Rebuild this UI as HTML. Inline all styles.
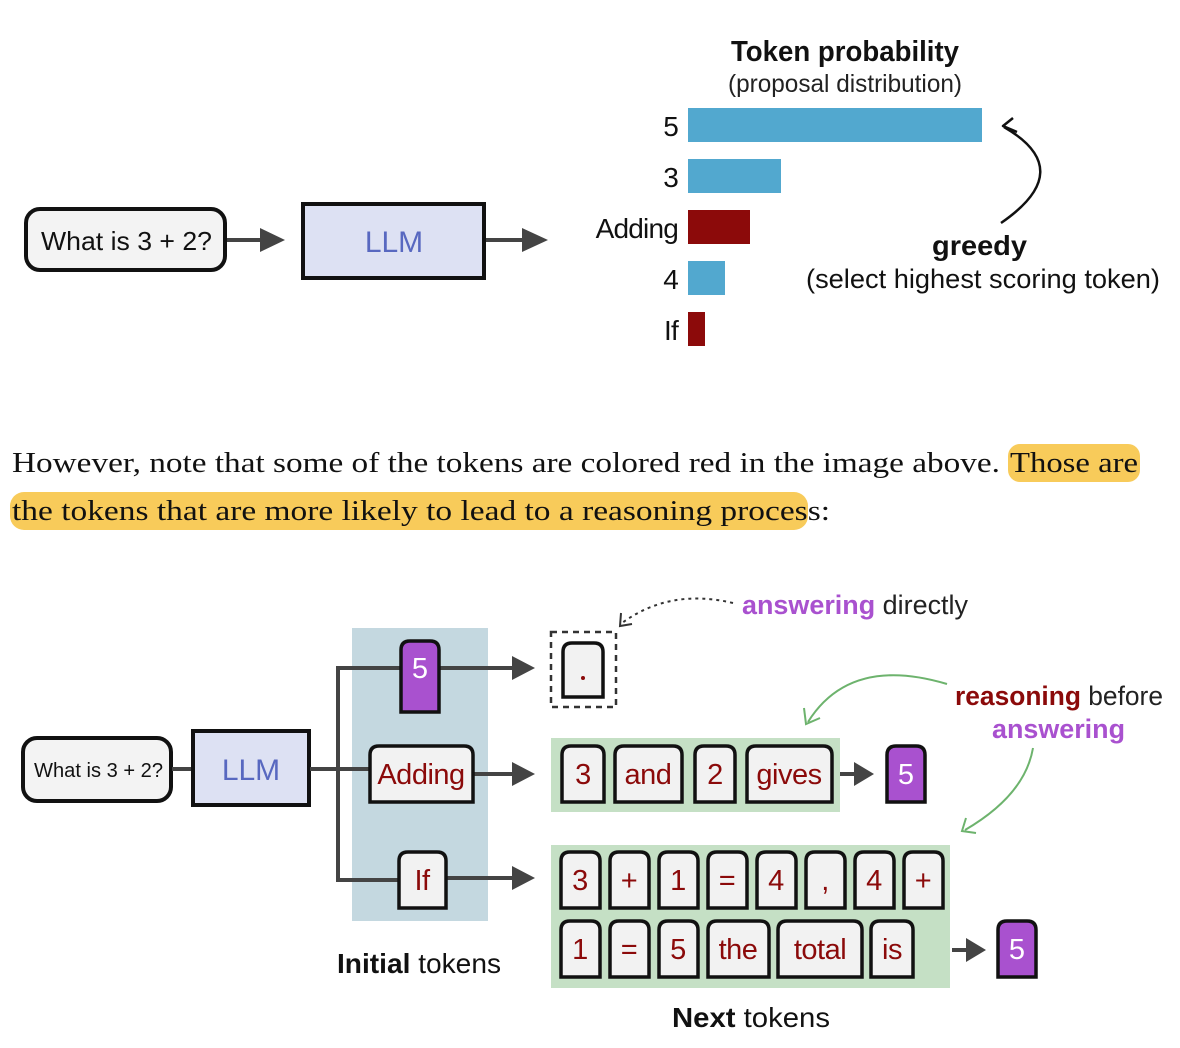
<!DOCTYPE html>
<html><head><meta charset="utf-8"><style>
html,body{margin:0;padding:0;background:#fff;}
svg{display:block;}
.s{font-family:"Liberation Sans",sans-serif;}
.tk{fill:#f2f2f2;stroke:#111;stroke-width:3.5;}
.rt{fill:#8b0a0a;font-size:29px;text-anchor:middle;letter-spacing:-0.5px;}
.pt{fill:#fff;font-size:29px;text-anchor:middle;}
.pu{fill:#a951cf;stroke:#111;stroke-width:3.5;}
.ln{stroke:#444;stroke-width:4;fill:none;}
</style></head><body>
<svg width="1180" height="1048" viewBox="0 0 1180 1048" xmlns="http://www.w3.org/2000/svg">
<g class="s">
<!-- TOP -->
<rect x="26" y="209" width="199" height="61" rx="14" fill="#f3f3f3" stroke="#111" stroke-width="4"/>
<text x="41" y="250" font-size="26" fill="#111" textLength="171" lengthAdjust="spacingAndGlyphs">What is 3 + 2?</text>
<line x1="227" y1="240" x2="262" y2="240" class="ln"/>
<polygon points="260,228 285,240 260,252" fill="#444"/>
<rect x="303" y="204" width="181" height="74" fill="#dde1f3" stroke="#111" stroke-width="4"/>
<text x="394" y="252" font-size="30" text-anchor="middle" fill="#5868c0">LLM</text>
<line x1="486" y1="240" x2="524" y2="240" class="ln"/>
<polygon points="522,228 548,240 522,252" fill="#444"/>

<text x="731" y="61" font-size="29" font-weight="bold" fill="#111" textLength="228" lengthAdjust="spacingAndGlyphs">Token probability</text>
<text x="728" y="92" font-size="25" fill="#222" textLength="234" lengthAdjust="spacingAndGlyphs">(proposal distribution)</text>
<rect x="688" y="108" width="294" height="34" fill="#52a8cf"/>
<rect x="688" y="159" width="93" height="34" fill="#52a8cf"/>
<rect x="688" y="210" width="62" height="34" fill="#8c0a0a"/>
<rect x="688" y="261" width="37" height="34" fill="#52a8cf"/>
<rect x="688" y="312" width="17" height="34" fill="#8c0a0a"/>
<g font-size="28" text-anchor="end" fill="#111" letter-spacing="-0.8">
<text x="678" y="136">5</text>
<text x="678" y="187">3</text>
<text x="678" y="238">Adding</text>
<text x="678" y="289">4</text>
<text x="678" y="340">If</text>
</g>
<path d="M1001,223 Q1078,170 1004,127" fill="none" stroke="#111" stroke-width="2.5"/>
<path d="M1013,118 L1003,126 L1017,132" fill="none" stroke="#111" stroke-width="2.5" stroke-linejoin="round"/>
<text x="932" y="255" font-size="28" font-weight="bold" fill="#111" textLength="95" lengthAdjust="spacingAndGlyphs">greedy</text>
<text x="806" y="288" font-size="27" fill="#111" textLength="354" lengthAdjust="spacingAndGlyphs">(select highest scoring token)</text>
</g>

<!-- PARAGRAPH -->
<rect x="1008" y="444" width="132" height="38" rx="12" fill="#f8cb5a"/>
<rect x="10" y="492" width="798" height="38" rx="14" fill="#f8cb5a"/>
<g font-family="'Liberation Serif',serif" font-size="29" fill="#111">
<text x="12" y="472" textLength="988" lengthAdjust="spacingAndGlyphs">However, note that some of the tokens are colored red in the image above.</text>
<text x="1010" y="472" textLength="128" lengthAdjust="spacingAndGlyphs">Those are</text>
<text x="12" y="520" textLength="818" lengthAdjust="spacingAndGlyphs">the tokens that are more likely to lead to a reasoning process:</text>
</g>

<!-- BOTTOM -->
<g class="s">
<rect x="352" y="628" width="136" height="293" fill="#c4d8e0"/>
<rect x="23" y="738" width="148" height="63" rx="14" fill="#f3f3f3" stroke="#111" stroke-width="4"/>
<text x="34" y="777" font-size="20" fill="#111" textLength="129" lengthAdjust="spacingAndGlyphs">What is 3 + 2?</text>
<line x1="172" y1="769" x2="193" y2="769" class="ln"/>
<rect x="193" y="731" width="116" height="74" fill="#dde1f3" stroke="#111" stroke-width="4"/>
<text x="251" y="780" font-size="30" text-anchor="middle" fill="#5868c0">LLM</text>
<line x1="310" y1="769" x2="370" y2="769" class="ln"/>
<path d="M400,668 H338 V880 H400" class="ln"/>
<line x1="440" y1="668" x2="514" y2="668" class="ln"/>
<polygon points="512,656 535,668 512,680" fill="#444"/>
<line x1="474" y1="774" x2="514" y2="774" class="ln"/>
<polygon points="512,762 535,774 512,786" fill="#444"/>
<line x1="447" y1="878" x2="514" y2="878" class="ln"/>
<polygon points="512,866 535,878 512,890" fill="#444"/>

<path class="pu" d="M401,712 V650 Q401,641 410,641 H430 Q439,641 439,650 V712 Z"/>
<text class="pt" x="420" y="678">5</text>
<path class="tk" d="M370,802 V755 Q370,746 379,746 H464 Q473,746 473,755 V802 Z"/>
<text class="rt" x="421" y="784">Adding</text>
<path class="tk" d="M399,908 V861 Q399,852 408,852 H437 Q446,852 446,861 V908 Z"/>
<text class="rt" x="422" y="890">If</text>
<text x="337" y="973" font-size="28" fill="#111" textLength="164" lengthAdjust="spacingAndGlyphs"><tspan font-weight="bold">Initial</tspan> tokens</text>

<!-- dashed -->
<rect x="551" y="632" width="65" height="75" fill="none" stroke="#333" stroke-width="2.5" stroke-dasharray="6,5"/>
<path class="tk" d="M563,697 V652 Q563,643 572,643 H594 Q603,643 603,652 V697 Z"/>
<circle cx="583" cy="678" r="2" fill="#8b0a0a"/>
<path d="M733,603 Q670,588 622,623" fill="none" stroke="#333" stroke-width="2" stroke-dasharray="3,4"/>
<path d="M621,613 L620,626 L632,624" fill="none" stroke="#333" stroke-width="2"/>
<text x="742" y="614" font-size="27" fill="#222" textLength="226" lengthAdjust="spacingAndGlyphs"><tspan fill="#a951cf" font-weight="bold">answering</tspan> directly</text>

<!-- green 1 -->
<rect x="551" y="738" width="289" height="74" fill="#c5e0c5"/>
<path class="tk" d="M562,802 V755 Q562,746 571,746 H595 Q604,746 604,755 V802 Z"/><text class="rt" x="583" y="784">3</text>
<path class="tk" d="M615,802 V755 Q615,746 624,746 H673 Q682,746 682,755 V802 Z"/><text class="rt" x="648" y="784">and</text>
<path class="tk" d="M695,802 V755 Q695,746 704,746 H726 Q735,746 735,755 V802 Z"/><text class="rt" x="715" y="784">2</text>
<path class="tk" d="M747,802 V755 Q747,746 756,746 H823 Q832,746 832,755 V802 Z"/><text class="rt" x="789" y="784">gives</text>
<line x1="840" y1="774" x2="856" y2="774" class="ln"/>
<polygon points="854,762 874,774 854,786" fill="#444"/>
<path class="pu" d="M887,802 V755 Q887,746 896,746 H916 Q925,746 925,755 V802 Z"/>
<text class="pt" x="906" y="784">5</text>

<!-- green 2 -->
<rect x="551" y="845" width="399" height="143" fill="#c5e0c5"/>
<g>
<path class="tk" d="M561,908 V861 Q561,852 570,852 H591 Q600,852 600,861 V908 Z"/><text class="rt" x="580" y="890">3</text>
<path class="tk" d="M610,908 V861 Q610,852 619,852 H640 Q649,852 649,861 V908 Z"/><text class="rt" x="629" y="890">+</text>
<path class="tk" d="M659,908 V861 Q659,852 668,852 H689 Q698,852 698,861 V908 Z"/><text class="rt" x="678" y="890">1</text>
<path class="tk" d="M708,908 V861 Q708,852 717,852 H738 Q747,852 747,861 V908 Z"/><text class="rt" x="727" y="890">=</text>
<path class="tk" d="M757,908 V861 Q757,852 766,852 H787 Q796,852 796,861 V908 Z"/><text class="rt" x="776" y="890">4</text>
<path class="tk" d="M806,908 V861 Q806,852 815,852 H836 Q845,852 845,861 V908 Z"/><text class="rt" x="825" y="890">,</text>
<path class="tk" d="M855,908 V861 Q855,852 864,852 H885 Q894,852 894,861 V908 Z"/><text class="rt" x="874" y="890">4</text>
<path class="tk" d="M904,908 V861 Q904,852 913,852 H934 Q943,852 943,861 V908 Z"/><text class="rt" x="923" y="890">+</text>
<path class="tk" d="M561,977 V930 Q561,921 570,921 H591 Q600,921 600,930 V977 Z"/><text class="rt" x="580" y="959">1</text>
<path class="tk" d="M610,977 V930 Q610,921 619,921 H640 Q649,921 649,930 V977 Z"/><text class="rt" x="629" y="959">=</text>
<path class="tk" d="M659,977 V930 Q659,921 668,921 H689 Q698,921 698,930 V977 Z"/><text class="rt" x="678" y="959">5</text>
<path class="tk" d="M708,977 V930 Q708,921 717,921 H760 Q769,921 769,930 V977 Z"/><text class="rt" x="738" y="959">the</text>
<path class="tk" d="M778,977 V930 Q778,921 787,921 H853 Q862,921 862,930 V977 Z"/><text class="rt" x="820" y="959">total</text>
<path class="tk" d="M871,977 V930 Q871,921 880,921 H904 Q913,921 913,930 V977 Z"/><text class="rt" x="892" y="959">is</text>
</g>
<line x1="952" y1="950" x2="968" y2="950" class="ln"/>
<polygon points="966,938 986,950 966,962" fill="#444"/>
<path class="pu" d="M998,977 V930 Q998,921 1007,921 H1027 Q1036,921 1036,930 V977 Z"/>
<text class="pt" x="1017" y="959">5</text>
<text x="672" y="1027" font-size="28" fill="#111" textLength="158" lengthAdjust="spacingAndGlyphs"><tspan font-weight="bold">Next</tspan> tokens</text>

<!-- reasoning -->
<path d="M947,684 Q850,655 808,722" fill="none" stroke="#6db36d" stroke-width="2"/>
<path d="M804,708 L806,724 L820,718" fill="none" stroke="#6db36d" stroke-width="2"/>
<path d="M1033,748 Q1025,795 965,830" fill="none" stroke="#6db36d" stroke-width="2"/>
<path d="M966,818 L962,831 L976,833" fill="none" stroke="#6db36d" stroke-width="2"/>
<text x="955" y="705" font-size="27" fill="#222" textLength="208" lengthAdjust="spacingAndGlyphs"><tspan fill="#8b0a0a" font-weight="bold">reasoning</tspan> before</text>
<text x="992" y="738" font-size="27" fill="#a951cf" font-weight="bold" textLength="133" lengthAdjust="spacingAndGlyphs">answering</text>
</g>
</svg>
</body></html>
